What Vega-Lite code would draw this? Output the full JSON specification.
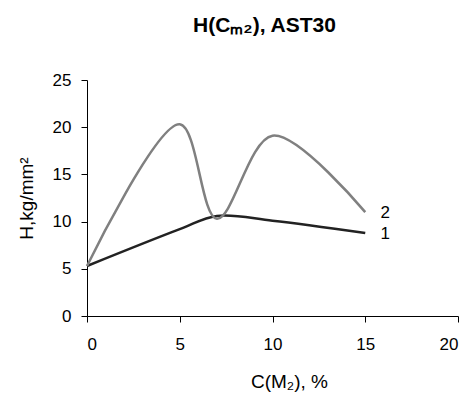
{
  "$schema": "https://vega.github.io/schema/vega-lite/v6.json",
  "width": 371,
  "height": 236,
  "autosize": {"type": "none"},
  "padding": {"left": 87, "top": 80, "right": 7, "bottom": 78},
  "background": "white",
  "config": {
    "font": "Liberation Sans",
    "view": {"stroke": null},
    "axis": {"labelFont": "Liberation Sans", "titleFont": "Liberation Sans", "labelFontSize": 17, "titleFontSize": 19, "labelColor": "#000", "titleColor": "#000", "titleFontWeight": "normal", "domainColor": "#000", "tickColor": "#000", "grid": false, "tickSize": 6}
  },
  "title": {"text": "H(Cₘ₂), AST30", "font": "Liberation Sans", "fontSize": 21, "fontWeight": "bold", "color": "#000", "anchor": "middle", "baseline": "alphabetic", "offset": 18, "dx": -8},
  "data": {"values": [
    {"x": 0, "H": 5.3, "s": "1"},
    {"x": 5, "H": 9.2, "s": "1"},
    {"x": 7, "H": 10.6, "s": "1"},
    {"x": 10, "H": 10.1, "s": "1"},
    {"x": 15, "H": 8.8, "s": "1"},
    {"x": 0, "H": 5.3, "s": "2"},
    {"x": 5, "H": 20.3, "s": "2"},
    {"x": 7, "H": 10.3, "s": "2"},
    {"x": 10, "H": 19.1, "s": "2"},
    {"x": 15, "H": 11.0, "s": "2"}
  ]},
  "encoding": {
    "x": {"field": "x", "type": "quantitative", "scale": {"domain": [0, 20], "nice": false}, "axis": {"values": [0, 5, 10, 15, 20], "title": "C(M₂), %", "labelPadding": 14, "titleBaseline": "alphabetic", "titleY": 71, "titleX": 202}},
    "y": {"field": "H", "type": "quantitative", "scale": {"domain": [0, 25], "nice": false}, "axis": {"values": [0, 5, 10, 15, 20, 25], "title": "H,kg/mm²", "labelPadding": 10, "titleBaseline": "alphabetic", "titleX": -55, "titleY": 118}}
  },
  "layer": [
    {
      "mark": {"type": "line", "interpolate": "catmull-rom", "strokeWidth": 2.5},
      "encoding": {
        "color": {"field": "s", "type": "nominal", "scale": {"domain": ["1", "2"], "range": ["#222222", "#808080"]}, "legend": null},
        "detail": {"field": "s"}
      }
    },
    {
      "transform": [{"filter": "datum.x == 15"}],
      "mark": {"type": "text", "dx": 20, "dy": 1, "fontSize": 17, "font": "Liberation Sans", "color": "#000"},
      "encoding": {"text": {"field": "s"}}
    }
  ]
}
